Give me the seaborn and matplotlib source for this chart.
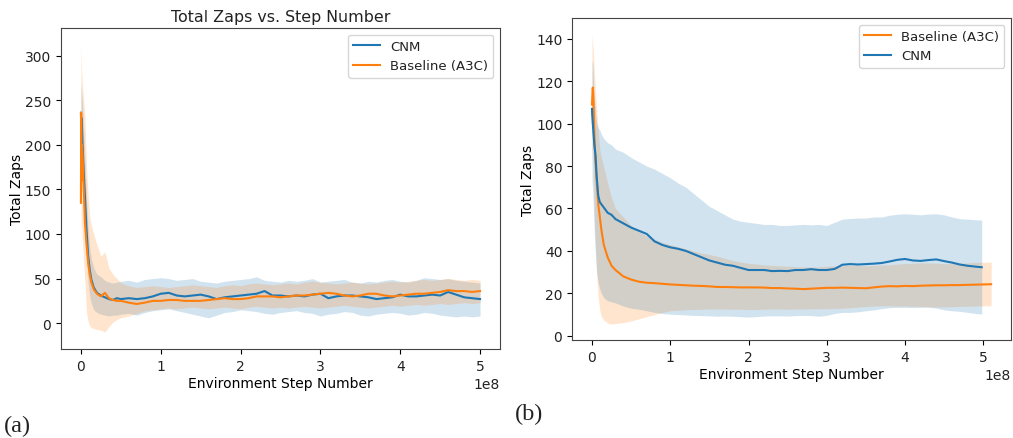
import matplotlib
matplotlib.use("Agg")
import matplotlib.pyplot as plt
import seaborn as sns
import numpy as np
import pandas as pd

# ---------------- Panel (a) data (x in units of 1e8 steps) ----------------
steps_a = [0, 0.003, 0.006, 0.01, 0.02, 0.035, 0.05, 0.07, 0.09, 0.11, 0.13, 0.16, 0.2, 0.25, 0.3, 0.35, 0.4, 0.45, 0.5,
           0.6, 0.7, 0.8, 0.9, 1.0, 1.1, 1.2, 1.3, 1.4, 1.5, 1.6, 1.7, 1.8, 1.9, 2.0, 2.1, 2.2, 2.3, 2.4, 2.5,
           2.6, 2.7, 2.8, 2.9, 3.0, 3.1, 3.2, 3.3, 3.4, 3.5, 3.6, 3.7, 3.8, 3.9, 4.0, 4.1, 4.2, 4.3, 4.4, 4.5,
           4.6, 4.7, 4.8, 4.9, 5.0]

cnm_a = [236, 215, 200, 230, 200, 170, 143, 105, 76, 60, 49, 40, 34, 31, 29, 27, 26, 28, 27,
         28, 27, 28, 30, 33, 34, 31, 30, 31, 32, 30, 27, 29, 30, 31, 32, 33, 36, 31, 31,
         30, 31, 30, 32, 33, 28, 30, 31, 31, 30, 29, 27, 28, 29, 32, 30, 30, 31, 32, 31,
         35, 32, 29, 28, 27]
cnm_a_lo = [205, 190, 175, 185, 160, 130, 100, 70, 45, 30, 22, 15, 12, 10, 9, 8, 9, 9, 10,
            11, 9, 12, 14, 15, 16, 14, 12, 10, 8, 6, 9, 12, 13, 15, 14, 13, 11, 10, 12,
            13, 14, 12, 11, 8, 10, 11, 13, 12, 9, 8, 10, 11, 12, 11, 9, 10, 12, 11, 9,
            8, 7, 8, 7, 8]
cnm_a_hi = [268, 265, 262, 258, 245, 215, 185, 140, 108, 85, 72, 62, 55, 52, 48, 46, 45, 46, 47,
            48, 46, 49, 50, 51, 50, 48, 49, 50, 47, 46, 45, 47, 48, 49, 50, 52, 48, 47, 46,
            48, 47, 48, 50, 46, 47, 48, 49, 46, 45, 47, 46, 48, 49, 47, 46, 48, 51, 50, 49,
            50, 48, 47, 46, 45]

base_a = [135, 236, 160, 200, 190, 150, 113, 88, 68, 55, 46, 38, 33, 30, 34, 28, 26, 25, 25,
          23, 21.5, 23, 25, 25, 26, 26, 25, 25, 25, 26, 27, 28, 27, 27, 28, 30, 30, 30, 29,
          30, 31, 31, 32, 33, 34, 33, 31, 30, 31, 33, 33, 31, 30, 31, 32, 33, 33, 34, 35,
          37, 36, 36, 35, 36]
base_a_lo = [70, 150, 100, 110, 90, 68, 45, 12, 2, -3, -5, -6, -7, -8, -10, -4, 1, 4, 6,
             8, 11, 14, 15, 16, 17, 16, 17, 18, 17, 16, 17, 18, 17, 16, 18, 19, 18, 17, 18,
             17, 18, 19, 18, 17, 18, 19, 20, 19, 18, 17, 18, 19, 20, 19, 20, 21, 20, 21, 22,
             21, 22, 23, 22, 23]
base_a_hi = [315, 300, 290, 280, 265, 250, 230, 175, 143, 120, 110, 100, 88, 75, 80, 62, 55, 50, 45,
             42, 40, 41, 42, 41, 40, 41, 42, 43, 42, 41, 40, 42, 43, 42, 44, 45, 44, 43, 44,
             45, 44, 46, 47, 46, 45, 44, 45, 46, 45, 44, 45, 46, 47, 46, 47, 48, 49, 48, 49,
             50, 49, 48, 49, 48]

# ---------------- Panel (b) data ----------------
steps_b_cnm = [0, 0.003, 0.01, 0.02, 0.03, 0.045, 0.06, 0.08, 0.1, 0.12, 0.15, 0.2, 0.25, 0.3, 0.4, 0.5,
               0.6, 0.7, 0.8, 0.9, 1.0, 1.1, 1.2, 1.3, 1.4, 1.5, 1.6, 1.7, 1.8, 1.9, 2.0, 2.1, 2.2, 2.3,
               2.4, 2.5, 2.6, 2.7, 2.8, 2.9, 3.0, 3.1, 3.2, 3.3, 3.4, 3.5, 3.6, 3.7, 3.8, 3.9, 4.0,
               4.1, 4.2, 4.3, 4.4, 4.5, 4.6, 4.7, 4.8, 4.9, 4.98]
cnm_b = [107, 104, 100, 95, 90, 85, 75, 66, 63, 62, 60.5, 58, 57, 55, 53, 51,
         49.5, 48, 44.5, 42.8, 41.7, 41, 40, 38.5, 37, 35.5, 34.5, 33.5, 33, 32, 31, 31, 31, 30.5,
         30.6, 30.5, 31, 31, 31.4, 31, 31, 31.5, 33.5, 33.8, 33.6, 33.8, 34, 34.3, 35, 35.8, 36.2,
         35.5, 35.3, 35.7, 36, 35.2, 34.5, 33.6, 33, 32.6, 32.3]
cnm_b_lo = [73, 72, 68, 58, 48, 38, 30, 25, 22, 20, 18, 16.5, 16, 15.5, 14, 13,
            12.5, 11.8, 11, 10.5, 10.2, 10, 9.8, 9.6, 9.5, 9.4, 9.2, 9.3, 9.2, 9, 8.8, 9, 9.3, 9.4,
            9.4, 9.3, 9.5, 9.6, 9.5, 9.2, 9.6, 10.5, 11, 11, 11.3, 11.8, 12.2, 12.8, 13.2, 13.4, 13.4,
            13.3, 13.4, 13.5, 13, 12.2, 11.8, 11.5, 11, 10.5, 10.2]
cnm_b_hi = [128, 130, 128, 120, 112, 106, 100, 98, 97, 95, 93, 91, 90, 88, 86.5, 84,
            82, 80, 78.5, 76.5, 74.5, 72, 70, 67, 64, 61, 59, 57, 55, 54, 53.5, 53, 52.5, 52.5,
            52, 52, 52.3, 52.5, 52.3, 52.5, 52, 53.5, 55, 55.3, 55.5, 55.5, 56, 56, 56.8, 57.3, 57.5,
            57.3, 57, 57.4, 57.5, 57, 56, 55.2, 55, 54.7, 54.5]

steps_b_base = [0, 0.003, 0.01, 0.02, 0.03, 0.045, 0.06, 0.08, 0.1, 0.12, 0.15, 0.2, 0.25, 0.3, 0.4, 0.5,
                0.6, 0.7, 0.8, 0.9, 1.0, 1.1, 1.2, 1.3, 1.4, 1.5, 1.6, 1.7, 1.8, 1.9, 2.0, 2.1, 2.2, 2.3,
                2.4, 2.5, 2.6, 2.7, 2.8, 2.9, 3.0, 3.1, 3.2, 3.3, 3.4, 3.5, 3.6, 3.7, 3.8, 3.9, 4.0,
                4.1, 4.2, 4.3, 4.4, 4.5, 4.6, 4.7, 4.8, 4.9, 5.0, 5.1]
base_b = [109, 112, 117, 110, 95, 82, 73, 62, 56, 50, 43, 37, 33, 31, 28, 26.5,
          25.5, 25, 24.8, 24.5, 24.2, 24, 23.8, 23.6, 23.5, 23.3, 23, 23, 22.9, 22.8, 22.8, 22.8, 22.7, 22.5,
          22.5, 22.3, 22.2, 22, 22.2, 22.4, 22.6, 22.6, 22.7, 22.6, 22.5, 22.4, 22.8, 23.2, 23.4, 23.3, 23.5,
          23.4, 23.6, 23.7, 23.8, 23.8, 23.9, 23.9, 24, 24.1, 24.2, 24.3]
base_b_lo = [80, 85, 90, 75, 55, 42, 28, 18, 12, 9, 7.5, 6, 5.5, 5.8, 6.2, 7,
             8, 9, 10, 11, 11.8, 12, 12.2, 12.4, 12.5, 12.6, 12.6, 12.6, 12.5, 12.5, 12.4, 12.4, 12.5, 12.6,
             12.6, 12.5, 12.6, 12.6, 12.7, 12.7, 12.8, 12.8, 13, 13.2, 13.5, 13.8, 14, 14.1, 14.1, 14, 14,
             13.9, 13.8, 13.6, 13.6, 13.6, 13.7, 13.8, 13.9, 14, 14.1, 14.1]
base_b_hi = [142, 140, 138, 132, 125, 115, 106, 96, 88, 84, 79.5, 72, 65, 60, 56, 52,
             49, 47, 45.5, 44, 43, 42, 41, 40, 39, 38.3, 37.5, 36.5, 35.5, 34.8, 34.2, 33.8, 33.4, 33.2,
             33, 32.8, 32.6, 32.5, 32.4, 32.5, 32.8, 33, 33, 33.2, 33.2, 33, 33.2, 33.4, 33.5, 33.8, 34,
             34.2, 34.4, 34.3, 34.2, 34, 34, 34.2, 34.4, 34.6, 34.6, 34.8]

BLUE = "#1f77b4"
ORANGE = "#ff7f0e"
SCALE = 1e8

plt.rcParams["font.family"] = ["DejaVu Sans"]
plt.rcParams["axes.edgecolor"] = "#444444"
plt.rcParams["text.color"] = "#222222"
plt.rcParams["xtick.labelcolor"] = "#222222"
plt.rcParams["ytick.labelcolor"] = "#222222"

fig = plt.figure(figsize=(10.13, 4.39), dpi=100)
ax_a = fig.add_axes([0.0602, 0.2027, 0.4334, 0.7312])
ax_b = fig.add_axes([0.5647, 0.2232, 0.4334, 0.7335])


def draw(ax, steps, mean, lo, hi, color, label):
    x = np.asarray(steps, dtype=float) * SCALE
    df = pd.DataFrame({"step": x, "zaps": mean})
    sns.lineplot(data=df, x="step", y="zaps", ax=ax, color=color, label=label,
                 linewidth=1.5, estimator=None, sort=False)
    ax.fill_between(x, lo, hi, color=color, alpha=0.2, linewidth=0)


# Panel (a)
draw(ax_a, steps_a, cnm_a, cnm_a_lo, cnm_a_hi, BLUE, "CNM")
draw(ax_a, steps_a, base_a, base_a_lo, base_a_hi, ORANGE, "Baseline (A3C)")
ax_a.set_title("Total Zaps vs. Step Number", fontsize=11.4, pad=5)
ax_a.set_xlabel("Environment Step Number", fontsize=10, labelpad=2)
ax_a.set_ylabel("Total Zaps", fontsize=10, labelpad=0.5)
ax_a.set_yticks([0, 50, 100, 150, 200, 250, 300])
ax_a.set_ylim(-29, 331)
ax_a.legend(loc="upper right", fontsize=9.5)

# Panel (b)
draw(ax_b, steps_b_base, base_b, base_b_lo, base_b_hi, ORANGE, "Baseline (A3C)")
draw(ax_b, steps_b_cnm, cnm_b, cnm_b_lo, cnm_b_hi, BLUE, "CNM")
ax_b.set_xlabel("Environment Step Number", fontsize=10, labelpad=2)
ax_b.set_ylabel("Total Zaps", fontsize=10, labelpad=0.5)
ax_b.set_yticks([0, 20, 40, 60, 80, 100, 120, 140])
ax_b.set_ylim(-2, 149.8)
ax_b.legend(loc="upper right", fontsize=9.5)

for ax in (ax_a, ax_b):
    ax.tick_params(labelsize=10)
    ax.xaxis.get_offset_text().set_fontsize(10)

fig.text(0.004, 0.016, "(a)", fontsize=17.5, family=["Liberation Serif", "DejaVu Serif"])
fig.text(0.508, 0.044, "(b)", fontsize=17.5, family=["Liberation Serif", "DejaVu Serif"])

fig.savefig("out.png", dpi=100)
